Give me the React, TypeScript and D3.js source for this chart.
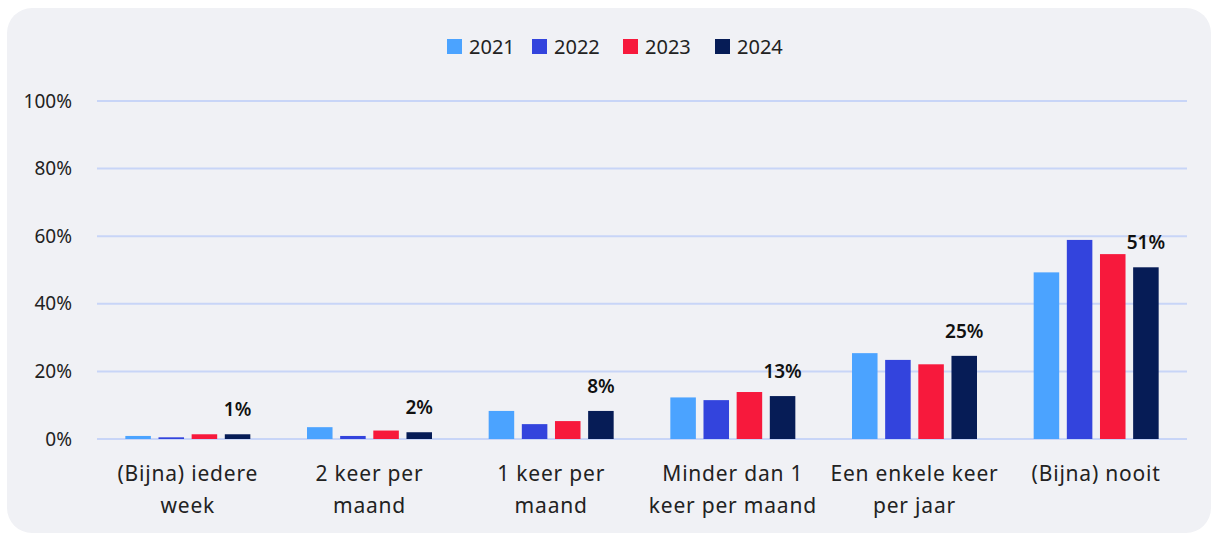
import { useEffect, useRef } from "react";
import * as d3 from "d3";

const categories = [
  ["(Bijna) iedere", "week"],
  ["2 keer per", "maand"],
  ["1 keer per", "maand"],
  ["Minder dan 1", "keer per maand"],
  ["Een enkele keer", "per jaar"],
  ["(Bijna) nooit"],
];
const years = ["2021", "2022", "2023", "2024"];
const v2021 = [0.9, 3.5, 8.3, 12.3, 25.4, 49.3];
const v2022 = [0.5, 0.9, 4.4, 11.5, 23.4, 58.9];
const v2023 = [1.4, 2.5, 5.3, 13.9, 22.1, 54.7];
const v2024 = [1.4, 2.0, 8.3, 12.7, 24.6, 50.8];
const labels2024 = ["1%", "2%", "8%", "13%", "25%", "51%"];
const yTicks = [0, 20, 40, 60, 80, 100];
const colors = ["#4ba3ff", "#3344dd", "#f7193c", "#061c56"];

const W = 1212;
const H = 534;
const FONT = "'Noto Sans', sans-serif";

export default function App() {
  const ref = useRef<SVGSVGElement>(null);

  useEffect(() => {
    if (!ref.current) return;
    const svg = d3.select(ref.current);
    svg.selectAll("*").remove();

    const series = [v2021, v2022, v2023, v2024];
    const keys = categories.map((c) => c.join(" "));

    svg.append("rect").attr("x", 7).attr("y", 8).attr("width", 1204).attr("height", 525)
      .attr("rx", 25).attr("fill", "#f0f1f5");

    const x0 = d3.scaleBand().domain(keys).range([97, 1187]).padding(0);
    const groupW = 125;
    const x1 = d3.scaleBand().domain(years).range([0, groupW]).paddingInner(0.23);
    const y = d3.scaleLinear().domain([0, 100]).range([439, 101]);

    // grid
    svg.append("g").selectAll("line").data(yTicks).enter().append("line")
      .attr("x1", 97).attr("x2", 1187)
      .attr("y1", (d) => y(d)).attr("y2", (d) => y(d))
      .attr("stroke", "#c8d5f7").attr("stroke-width", 2);

    svg.append("g").selectAll("text").data(yTicks).enter().append("text")
      .attr("x", 72).attr("y", (d) => y(d)).attr("dy", "0.35em")
      .attr("text-anchor", "end").attr("font-family", FONT).attr("font-size", "19px")
      .attr("fill", "#222").text((d) => `${d}%`);

    const offset = (k: string) => (x0(k) ?? 0) + (x0.bandwidth() - groupW) / 2;

    series.forEach((vals, si) => {
      svg.append("g").selectAll("rect").data(vals).enter().append("rect")
        .attr("x", (_, i) => offset(keys[i]) + (x1(years[si]) ?? 0))
        .attr("y", (d) => y(d))
        .attr("width", x1.bandwidth())
        .attr("height", (d) => y(0) - y(d))
        .attr("fill", colors[si]);
    });

    // value labels above 2024
    svg.append("g").selectAll("text").data(v2024).enter().append("text")
      .attr("x", (_, i) => offset(keys[i]) + (x1("2024") ?? 0) + x1.bandwidth() / 2)
      .attr("y", (d) => y(d) - 25).attr("dy", "0.35em")
      .attr("text-anchor", "middle").attr("font-family", FONT).attr("font-size", "19px")
      .attr("font-weight", 600).attr("fill", "#111")
      .text((_, i) => labels2024[i]);

    // category labels
    categories.forEach((lines, i) => {
      const t = svg.append("text").attr("text-anchor", "middle")
        .attr("font-family", FONT).attr("font-size", "21px").attr("letter-spacing", "0.8px")
        .attr("fill", "#222");
      lines.forEach((ln, j) => {
        t.append("tspan").attr("x", (x0(keys[i]) ?? 0) + x0.bandwidth() / 2)
          .attr("y", 474 + j * 32).attr("dy", "0.35em").text(ln);
      });
    });

    // legend
    const lx = [447, 532, 623, 715];
    const lg = svg.append("g");
    years.forEach((yr, i) => {
      lg.append("rect").attr("x", lx[i]).attr("y", 39).attr("width", 15).attr("height", 15)
        .attr("fill", colors[i]);
      lg.append("text").attr("x", lx[i] + 22).attr("y", 47).attr("dy", "0.35em")
        .attr("font-family", FONT).attr("font-size", "20px").attr("fill", "#222").text(yr);
    });
  }, []);

  return (
    <svg ref={ref} width={W} height={H}
      style={{ position: "absolute", left: 0, top: 0, background: "#fff" }} />
  );
}
